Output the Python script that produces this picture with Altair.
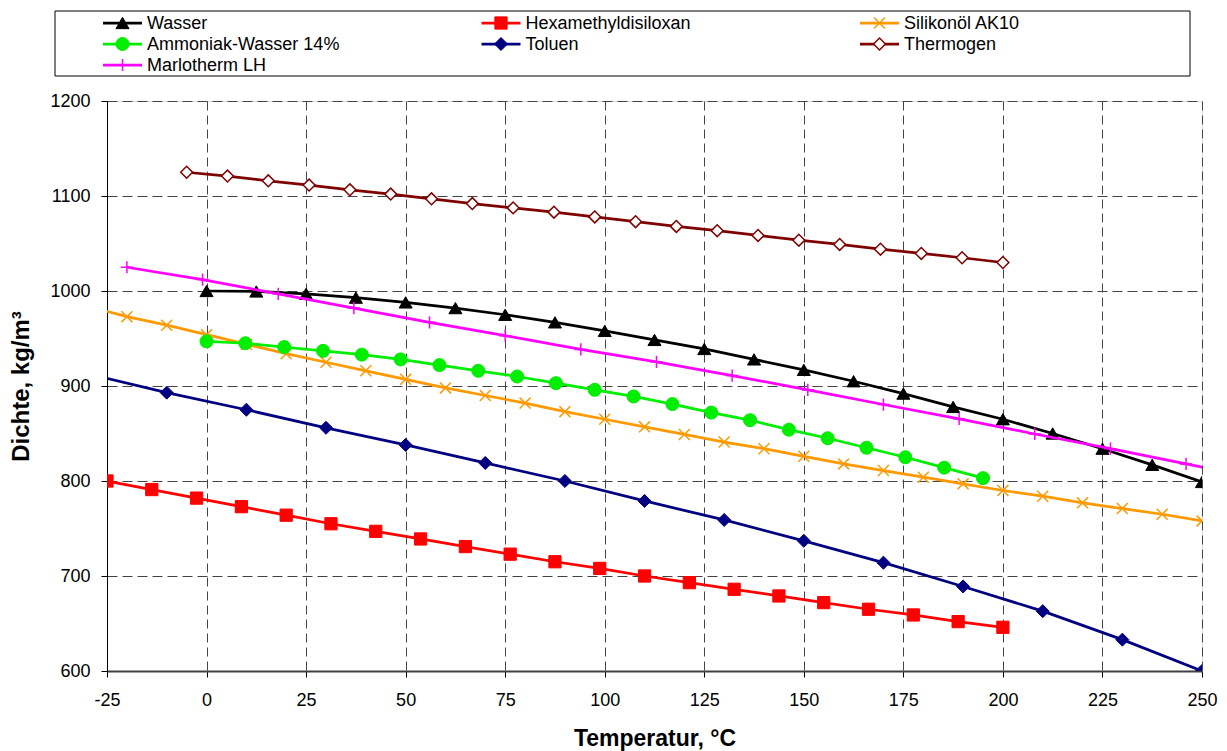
import altair as alt
import pandas as pd

# Density of heat-transfer fluids vs. temperature
wasser_t = [0, 12.5, 25, 37.5, 50, 62.5, 75, 87.5, 100, 112.5, 125, 137.5, 150,
            162.5, 175, 187.5, 200, 212.5, 225, 237.5, 250]
wasser_rho = [1000, 999.5, 997, 993, 988, 982, 975, 967, 958, 948.5, 939, 928, 917,
              905, 892, 878, 865, 850, 834, 817, 799]

hexa_t = [-25, -13.75, -2.5, 8.75, 20, 31.25, 42.5, 53.75, 65, 76.25, 87.5, 98.75,
          110, 121.25, 132.5, 143.75, 155, 166.25, 177.5, 188.75, 200]
hexa_rho = [800, 791, 782, 773, 764, 755, 747, 739, 731, 723, 715, 708,
            700, 693, 686, 679, 672, 665, 659, 652, 646]

silikon_t = [-30, -20, -10, 0, 10, 20, 30, 40, 50, 60, 70, 80, 90, 100, 110, 120,
             130, 140, 150, 160, 170, 180, 190, 200, 210, 220, 230, 240, 250]
silikon_rho = [984, 973, 964, 954, 944, 934, 925, 916, 907, 898, 890, 882, 873, 865,
               857, 849, 841, 834, 826, 818, 811, 804, 797, 790, 784, 777, 771, 765, 758]

ammoniak_t = [0, 9.75, 19.5, 29.25, 39, 48.75, 58.5, 68.25, 78, 87.75, 97.5, 107.25,
              117, 126.75, 136.5, 146.25, 156, 165.75, 175.5, 185.25, 195]
ammoniak_rho = [947, 945, 941, 937, 933, 928, 922, 916, 910, 903, 896, 889,
                881, 872, 864, 854, 845, 835, 825, 814, 803]

toluen_t = [-30, -10, 10, 30, 50, 70, 90, 110, 130, 150, 170, 190, 210, 230, 250]
toluen_rho = [913, 893, 875, 856, 838, 819, 800, 779, 759, 737, 714, 689, 663, 633, 600]

thermogen_t = [-5, 5.25, 15.5, 25.75, 36, 46.25, 56.5, 66.75, 77, 87.25, 97.5, 107.75,
               118, 128.25, 138.5, 148.75, 159, 169.25, 179.5, 189.75, 200]
thermogen_rho = [1125, 1121, 1116, 1111.5, 1106.5, 1102, 1097, 1092, 1087.5, 1083, 1078,
                 1073, 1068, 1063.5, 1058.5, 1053.5, 1049, 1044, 1039.5, 1035, 1030]

marlotherm_t = [-20, -1, 18, 37, 56, 75, 94, 113, 132, 151, 170, 189, 208, 227, 246, 265]
marlotherm_rho = [1025, 1012, 997, 982, 967, 953, 938.5, 925.5, 911, 896, 880.5,
                  865.5, 849.5, 834, 818, 802]

x_ticks = [-25, 0, 25, 50, 75, 100, 125, 150, 175, 200, 225, 250]
y_ticks = [600, 700, 800, 900, 1000, 1100, 1200]

X_PATH = "M-1,-1L1,1M-1,1L1,-1"
PLUS_PATH = "M-1,0L1,0M0,-1L0,1"

# name, t, rho, color, shape, fill, marker size, marker stroke width
series = [
    ("Wasser", wasser_t, wasser_rho, "#000000", "triangle-up", "#000000", 170, 1),
    ("Hexamethyldisiloxan", hexa_t, hexa_rho, "#ff0000", "square", "#ff0000", 150, 1),
    ("Silikonöl AK10", silikon_t, silikon_rho, "#ff9900", X_PATH, "transparent", 120, 1.5),
    ("Ammoniak-Wasser 14%", ammoniak_t, ammoniak_rho, "#00ee00", "circle", "#00ee00", 170, 1),
    ("Toluen", toluen_t, toluen_rho, "#000080", "diamond", "#000080", 170, 1),
    ("Thermogen", thermogen_t, thermogen_rho, "#800000", "diamond", "#ffffff", 140, 1.5),
    ("Marlotherm LH", marlotherm_t, marlotherm_rho, "#ff00ff", PLUS_PATH, "transparent", 150, 1.5),
]

FONT = "Liberation Sans"
W, H = 1095, 570

x_scale = alt.Scale(domain=[-25, 250], nice=False, zero=False)
y_scale = alt.Scale(domain=[600, 1200], nice=False, zero=False)

x_axis = alt.Axis(
    values=x_ticks, title="Temperatur, °C", grid=True, gridDash=[9, 5], gridColor="#444444",
    gridWidth=1, domainColor="#404040", domainWidth=2, tickColor="#000000", tickSize=6,
    labelFont=FONT, labelFontSize=18, labelColor="#000000", labelPadding=14,
    labelFlush=False, labelOverlap=False, labelExpr="'' + datum.value",
    titleFont=FONT, titleFontSize=23, titleFontWeight="bold", titleColor="#000000",
    titleX=W / 2, titleY=74, titleBaseline="alphabetic", titleAlign="center",
)
y_axis = alt.Axis(
    values=y_ticks, title="Dichte, kg/m³", grid=True, gridDash=[10, 5], gridColor="#444444",
    gridWidth=1, domainColor="#000000", domainWidth=1, tickColor="#000000", tickSize=6,
    labelFont=FONT, labelFontSize=18, labelColor="#000000", labelPadding=11,
    labelFlush=False, labelOverlap=False, labelExpr="'' + datum.value",
    titleFont=FONT, titleFontSize=24, titleFontWeight="bold", titleColor="#000000",
    titleAngle=270, titleX=-79, titleY=H / 2, titleBaseline="alphabetic", titleAlign="center",
)

layers = []
for name, t, rho, color, shape, fill, size, sw in series:
    df = pd.DataFrame({"t": t, "rho": rho})
    base = alt.Chart(df).encode(
        x=alt.X("t:Q", scale=x_scale, axis=x_axis),
        y=alt.Y("rho:Q", scale=y_scale, axis=y_axis),
    )
    layers.append(base.mark_line(color=color, strokeWidth=2.75, clip=True))
    layers.append(base.mark_point(shape=shape, size=size, fill=fill, stroke=color,
                                  strokeWidth=sw, opacity=1, fillOpacity=1, clip=True))

# Legend box above the plot: three columns, row-major order
COL_STEP, ROW_STEP = 378.5, 21.0
leg_rows = []
for i, (name, t, rho, color, shape, fill, size, sw) in enumerate(series):
    col, row = i % 3, i // 3
    leg_rows.append({
        "name": name, "color": color, "shape": shape, "fill": fill, "size": size, "sw": sw,
        "x0": -4 + COL_STEP * col, "x1": 35 + COL_STEP * col,
        "xm": 15.5 + COL_STEP * col, "xt": 40 + COL_STEP * col,
        "ly": -78 + ROW_STEP * row,
    })
leg = pd.DataFrame(leg_rows)

legend_box = alt.Chart(pd.DataFrame({"k": [0]})).mark_rect(
    fill="transparent", stroke="#000000", strokeWidth=1
).encode(x=alt.value(-52), x2=alt.value(1083), y=alt.value(-90), y2=alt.value(-25))

legend_lines = alt.Chart(leg).mark_rule(strokeWidth=2.75).encode(
    x=alt.X("x0:Q", scale=None), x2="x1:Q",
    y=alt.Y("ly:Q", scale=None),
    color=alt.Color("color:N", scale=None),
)
legend_marks = alt.Chart(leg).mark_point(opacity=1, fillOpacity=1).encode(
    x=alt.X("xm:Q", scale=None),
    y=alt.Y("ly:Q", scale=None),
    shape=alt.Shape("shape:N", scale=None),
    stroke=alt.Stroke("color:N", scale=None),
    fill=alt.Fill("fill:N", scale=None),
    size=alt.Size("size:Q", scale=None),
    strokeWidth=alt.StrokeWidth("sw:Q", scale=None),
)
legend_text = alt.Chart(leg).mark_text(
    align="left", baseline="middle", font=FONT, fontSize=18, color="#000000", dy=1
).encode(
    x=alt.X("xt:Q", scale=None),
    y=alt.Y("ly:Q", scale=None),
    text="name:N",
)

chart = alt.layer(*layers, legend_box, legend_lines, legend_marks, legend_text).properties(
    width=W, height=H,
    autosize=alt.AutoSizeParams(type="none"),
    padding={"left": 107, "top": 101, "right": 25, "bottom": 80},
).configure_view(stroke="#999999", strokeWidth=2).configure(background="#ffffff")

chart.save("out.html", embed_options={"renderer": "svg", "actions": False})
